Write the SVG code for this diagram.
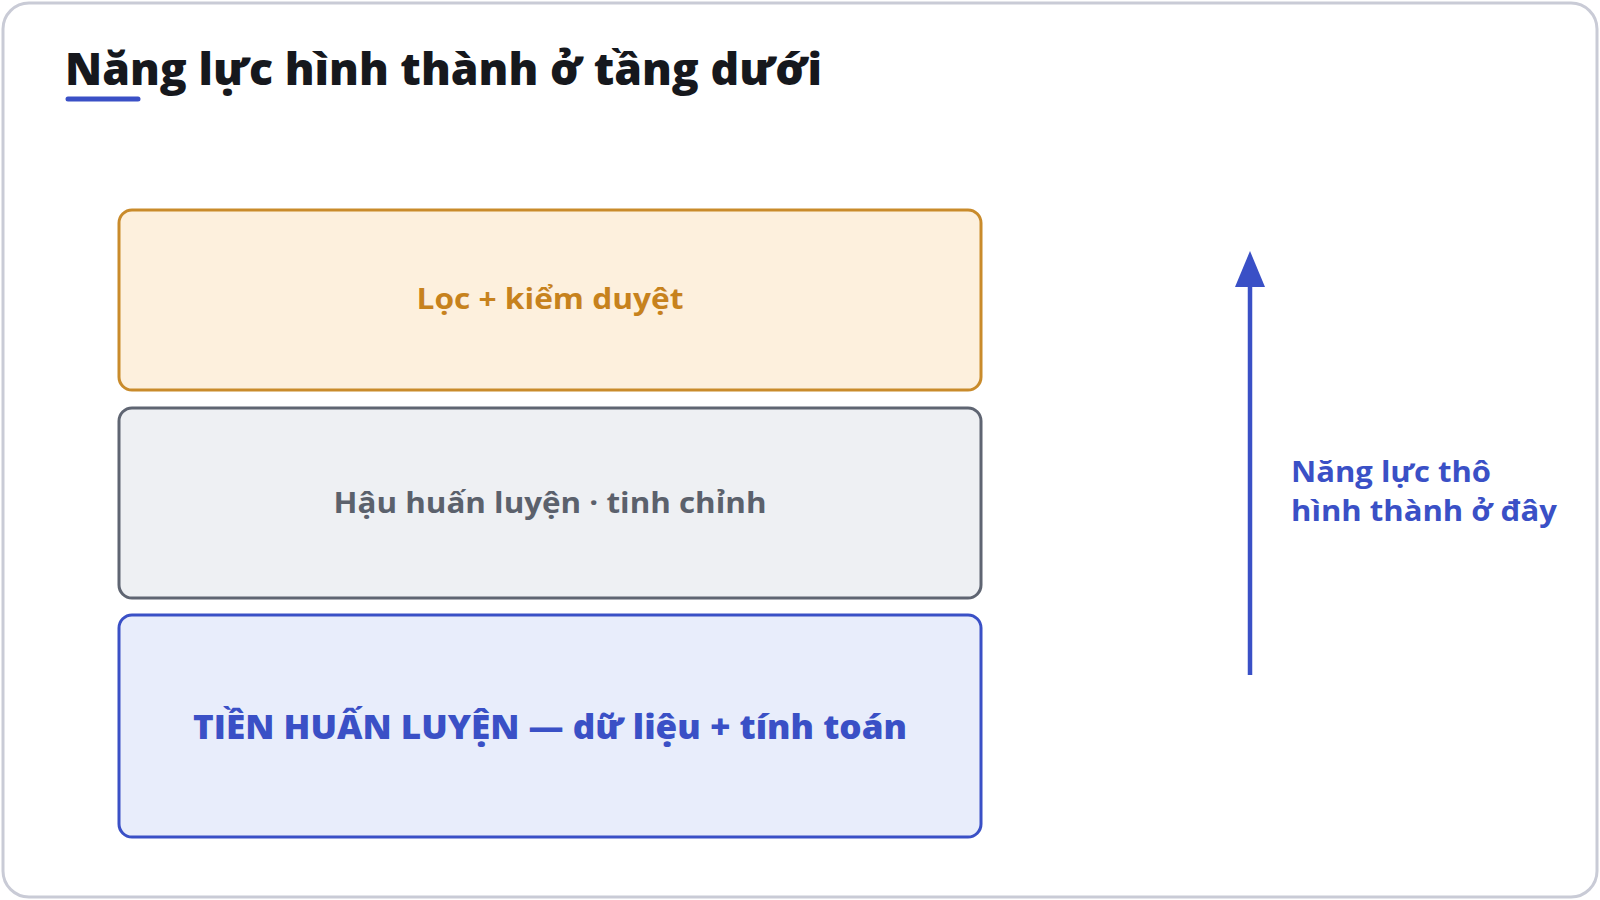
<svg xmlns="http://www.w3.org/2000/svg" width="1600" height="900" viewBox="0 0 1600 900">
<style>
text{font-family:"Open Sans","Noto Sans","DejaVu Sans",sans-serif;}
.title{font-size:44px;font-weight:800;fill:#16181d;}
.layer{stroke-width:3;}
.lbl{text-anchor:middle;}
.side{font-size:28px;font-weight:700;fill:#3a50c6;}
</style>
<defs>
<marker id="ah" markerWidth="36" markerHeight="30" refX="1" refY="15" orient="auto" markerUnits="userSpaceOnUse" viewBox="0 0 36 30">
<path d="M0,0 L36,15 L0,30 Z" fill="#3a50c6"/>
</marker>
</defs>
<rect x="0" y="0" width="1600" height="900" fill="#ffffff"/>
<rect x="3" y="3" width="1594" height="894" rx="26" fill="#ffffff" stroke="#c9cbd6" stroke-width="3"/>
<g id="title">
<text class="title" x="65" y="85" textLength="757" lengthAdjust="spacingAndGlyphs">Năng lực hình thành ở tầng dưới</text>
<line x1="68" y1="99" x2="138" y2="99" stroke="#3a50c6" stroke-width="5" stroke-linecap="round"/>
</g>
<g id="layer-top">
<rect class="layer" x="119" y="210" width="862" height="180" rx="13" fill="#fdf0dd" stroke="#c98b2b"/>
<text class="lbl" x="550" y="309" font-size="29" font-weight="700" fill="#c7821d" textLength="267" lengthAdjust="spacingAndGlyphs">Lọc + kiểm duyệt</text>
</g>
<g id="layer-middle">
<rect class="layer" x="119" y="408" width="862" height="190" rx="13" fill="#eef0f3" stroke="#5f6572"/>
<text class="lbl" x="550" y="513" font-size="29" font-weight="700" fill="#5b616c" textLength="433" lengthAdjust="spacingAndGlyphs">Hậu huấn luyện · tinh chỉnh</text>
</g>
<g id="layer-bottom">
<rect class="layer" x="119" y="615" width="862" height="222" rx="13" fill="#e8edfb" stroke="#3a50c6"/>
<text class="lbl" x="550" y="739" font-size="33" font-weight="800" fill="#3a50c6" textLength="714" lengthAdjust="spacingAndGlyphs">TIỀN HUẤN LUYỆN — dữ liệu + tính toán</text>
</g>
<g id="connectors">
<line x1="1250" y1="675" x2="1250" y2="286" stroke="#3a50c6" stroke-width="4.5" marker-end="url(#ah)"/>
</g>
<g id="side-label">
<text class="side" x="1291" y="482" textLength="200" lengthAdjust="spacingAndGlyphs">Năng lực thô</text>
<text class="side" x="1291" y="521" textLength="266" lengthAdjust="spacingAndGlyphs">hình thành ở đây</text>
</g>
</svg>
